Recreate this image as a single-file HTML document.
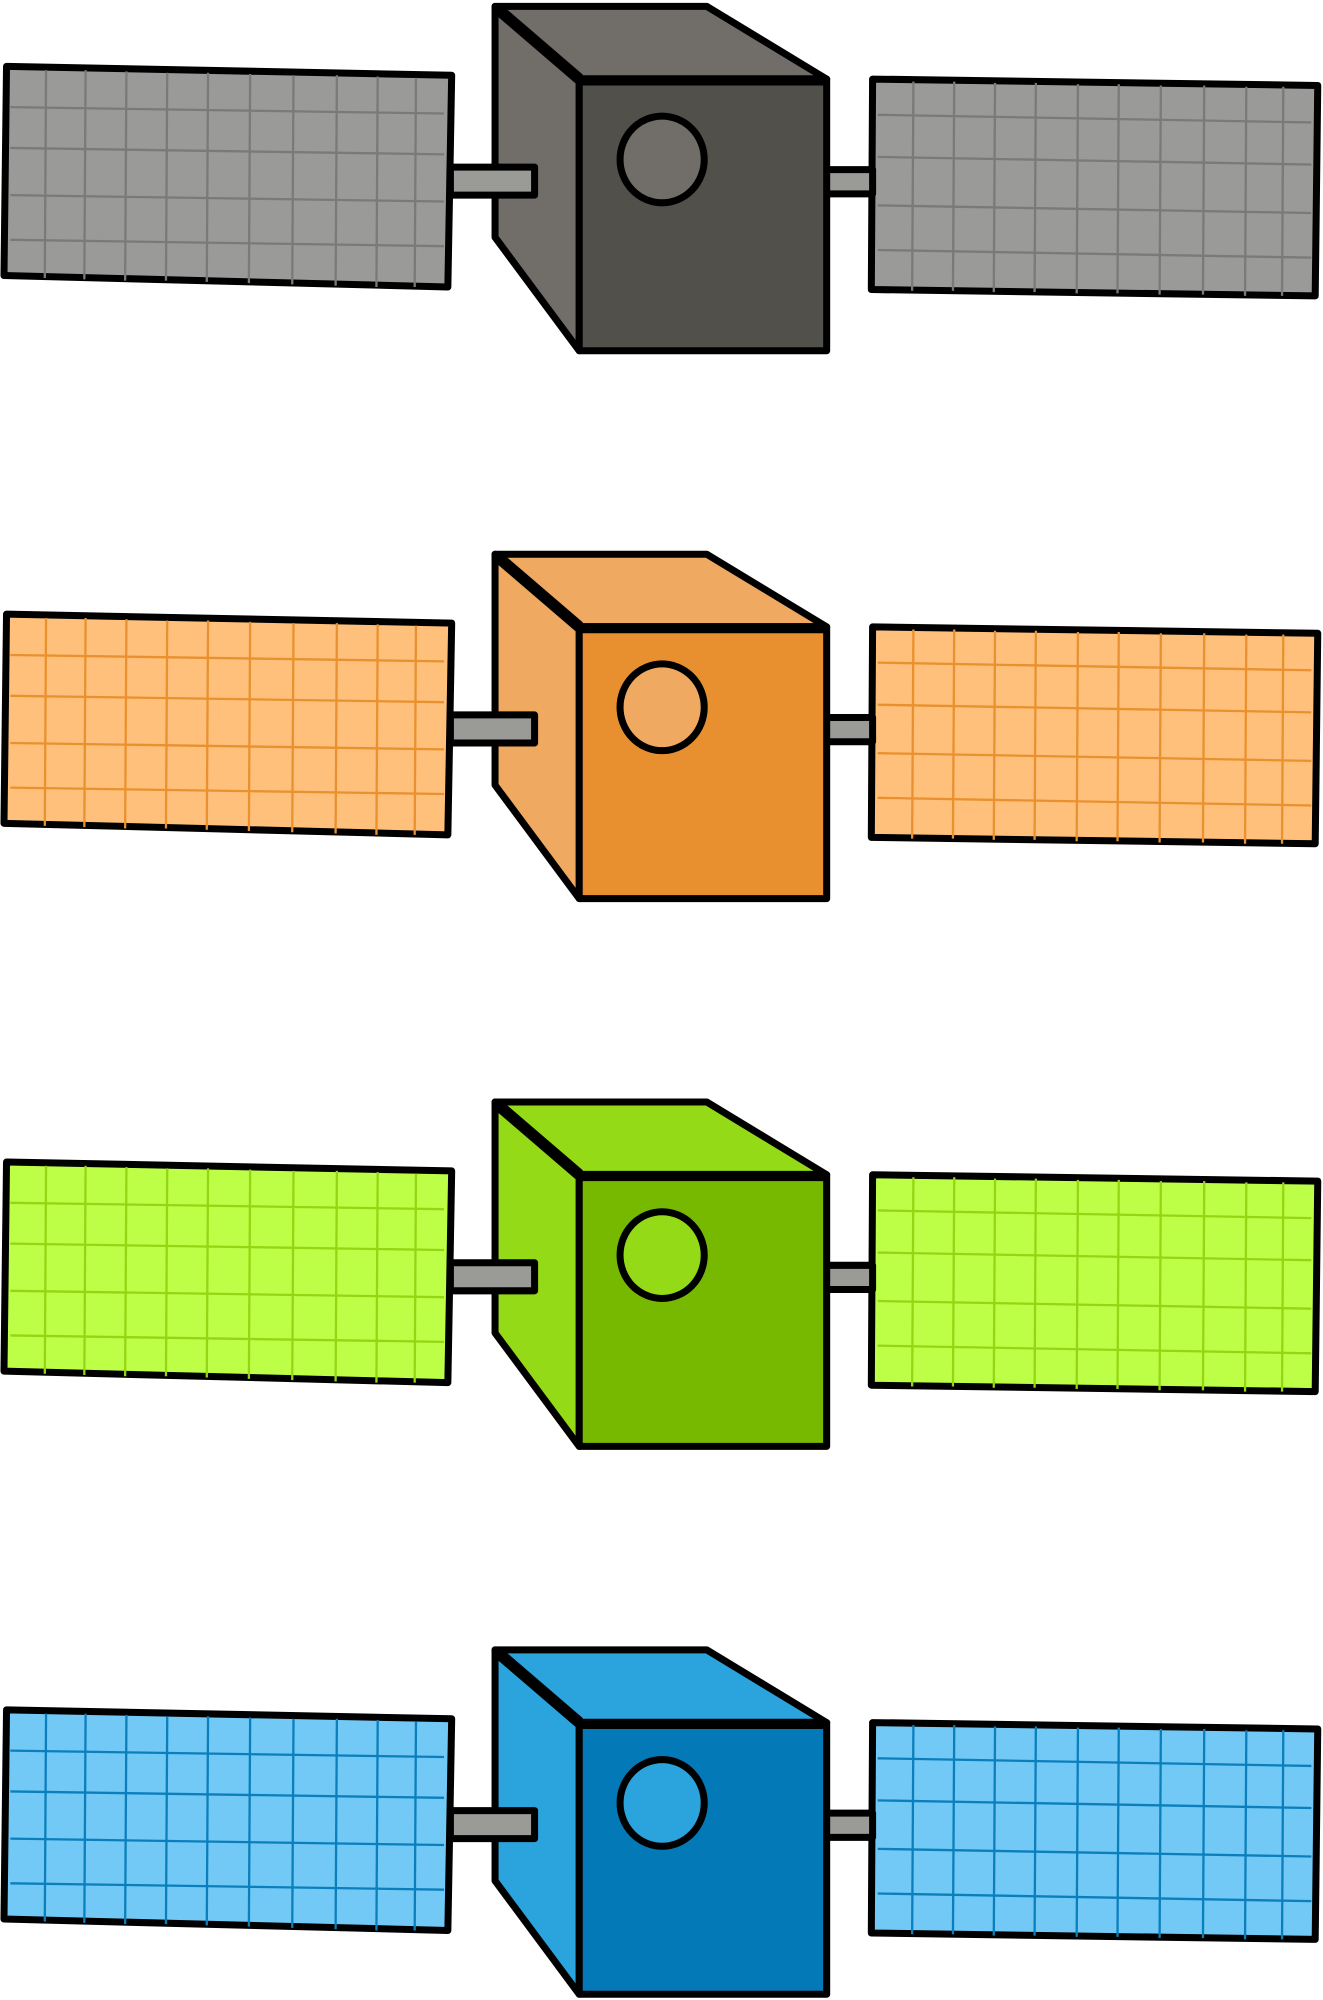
<!DOCTYPE html>
<html><head><meta charset="utf-8"><style>html,body{margin:0;padding:0;background:#fff}svg{display:block}</style></head>
<body>
<svg width="1323" height="2000" viewBox="0 0 1037 1568" xmlns="http://www.w3.org/2000/svg">
<defs>
<g id="sat" stroke-linejoin="round">
  <polygon points="5,52 354,59 351,225 3,216" style="fill:var(--panel)" stroke="#000" stroke-width="5.5"/>
  <g style="stroke:var(--grid)" stroke-width="1.8">
    <line x1="36" y1="55" x2="35" y2="218"/><line x1="67" y1="55" x2="66" y2="219"/>
    <line x1="99" y1="56" x2="98" y2="220"/><line x1="131" y1="57" x2="130" y2="220"/>
    <line x1="163" y1="57" x2="162" y2="221"/><line x1="196" y1="58" x2="195" y2="222"/>
    <line x1="230" y1="59" x2="229" y2="223"/><line x1="264" y1="59" x2="263" y2="224"/>
    <line x1="296" y1="60" x2="295" y2="225"/><line x1="326" y1="61" x2="325" y2="225"/>
    <line x1="8" y1="84" x2="348" y2="89"/><line x1="8" y1="116" x2="348" y2="121"/>
    <line x1="8" y1="153" x2="348" y2="158"/><line x1="8" y1="188" x2="348" y2="193"/>
  </g>
  <polygon points="684,62 1033,67 1031,232 683,227" style="fill:var(--panel)" stroke="#000" stroke-width="5.5"/>
  <g style="stroke:var(--grid)" stroke-width="1.8">
    <line x1="716" y1="64" x2="715" y2="228"/><line x1="748" y1="64" x2="747" y2="228"/>
    <line x1="780" y1="65" x2="779" y2="229"/><line x1="812" y1="65" x2="811" y2="229"/>
    <line x1="845" y1="66" x2="844" y2="230"/><line x1="877" y1="66" x2="876" y2="230"/>
    <line x1="910" y1="67" x2="909" y2="231"/><line x1="944" y1="67" x2="943" y2="231"/>
    <line x1="977" y1="68" x2="976" y2="232"/><line x1="1006" y1="68" x2="1005" y2="232"/>
    <line x1="688" y1="90" x2="1028" y2="96"/><line x1="688" y1="123" x2="1028" y2="129"/>
    <line x1="688" y1="161" x2="1028" y2="167"/><line x1="688" y1="196" x2="1028" y2="202"/>
  </g>
  <rect x="646" y="133" width="38" height="19" fill="#9a9a96" stroke="#000" stroke-width="5.5"/>
  <polygon points="388,5 554,5 648,62 454,62" style="fill:var(--top)" stroke="#000" stroke-width="5.5"/>
  <polygon points="388,5 454,62 454,275 388,186" style="fill:var(--top)" stroke="#000" stroke-width="5.5"/>
  <line x1="390" y1="7" x2="454" y2="62" stroke="#000" stroke-width="9"/>
  <rect x="353" y="131" width="66" height="22" fill="#9a9a96" stroke="#000" stroke-width="5.5"/>
  <rect x="454" y="62" width="194" height="213" style="fill:var(--front)" stroke="#000" stroke-width="5.5"/>
  <line x1="454" y1="63" x2="648" y2="63" stroke="#000" stroke-width="8"/>
  <ellipse cx="519" cy="125" rx="33" ry="34" style="fill:var(--top)" stroke="#000" stroke-width="5.5"/>
</g>
</defs>
<use href="#sat" style="--panel:#9a9a98;--grid:#7a7a78;--top:#716d69;--front:#52504b"/>
<use href="#sat" y="429.5" style="--panel:#ffc07c;--grid:#e8912e;--top:#f0a961;--front:#e89030"/>
<use href="#sat" y="859" style="--panel:#bdff47;--grid:#94d614;--top:#94da17;--front:#77b800"/>
<use href="#sat" y="1288.5" style="--panel:#72c9f5;--grid:#0b7fbb;--top:#2ba3dc;--front:#037ab7"/>
</svg>
</body></html>
